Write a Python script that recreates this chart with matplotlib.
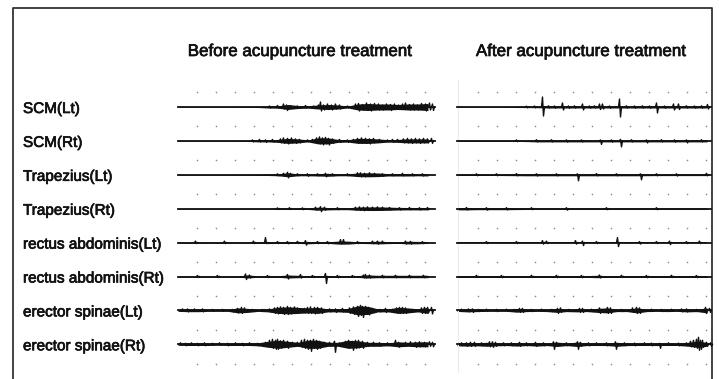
import numpy as np
import matplotlib
matplotlib.use("Agg")
import matplotlib.pyplot as plt
import matplotlib.patheffects as pe

# muscle names, one row per trace
muscles = ["SCM(Lt)", "SCM(Rt)", "Trapezius(Lt)", "Trapezius(Rt)",
           "rectus abdominis(Lt)", "rectus abdominis(Rt)",
           "erector spinae(Lt)", "erector spinae(Rt)"]
titles = ["Before acupuncture treatment", "After acupuncture treatment"]

# envelope (half amplitude, px) every 10 px along each trace
env_before = [
    [0.3, 0.3, 0.3, 0.3, 0.3, 0.3, 0.3, 0.4, 0.5, 1, 1.2, 2.5, 1.5, 1.2, 2, 2.5, 2, 1, 3, 3.5, 3, 3, 2.5, 3, 3, 3.5],
    [0.3, 0.3, 0.3, 0.3, 0.3, 0.3, 0.3, 0.5, 1, 1, 1.5, 2.5, 2, 1, 3, 3, 1.5, 1.2, 2.5, 2.5, 2, 1.2, 1.5, 2, 2, 2],
    [0.3, 0.3, 0.3, 0.3, 0.3, 0.3, 0.3, 0.4, 0.5, 0.7, 1, 2, 1, 1, 1.2, 1.5, 1, 1, 1.8, 2, 1.8, 1.2, 1.2, 1.2, 1, 1.2],
    [0.3, 0.3, 0.3, 0.3, 0.3, 0.3, 0.3, 0.3, 0.3, 0.3, 0.6, 0.7, 0.8, 0.8, 1.5, 1.2, 1, 1, 1.6, 1.8, 1.8, 1.6, 1.3, 1.2, 1.2, 1.2],
    [0.4, 0.5, 0.6, 0.4, 0.5, 0.6, 0.4, 0.5, 0.6, 1, 0.7, 0.8, 0.8, 1.2, 0.8, 0.8, 1.5, 1.5, 0.8, 1, 1.3, 1, 0.8, 1.3, 1.2, 0.8],
    [0.5, 0.5, 0.5, 0.5, 0.5, 0.5, 0.6, 1.5, 0.7, 0.7, 0.8, 1.5, 1.2, 0.8, 0.8, 1, 0.8, 0.8, 1, 1.5, 1.2, 1.2, 1.2, 1.2, 1.2, 1.2],
    [1, 1.3, 1.3, 1, 1, 1, 2.5, 2, 1, 1.5, 3, 3.5, 3, 2.5, 3, 1.5, 1.5, 2, 4.5, 4, 1.5, 1.5, 3, 2.5, 1.5, 3],
    [1, 1.2, 1.2, 1.2, 1, 1.2, 1.2, 1.2, 1.5, 3, 4, 3, 2, 4, 4, 2, 2, 4, 3.5, 2, 2, 1.5, 2.5, 2, 2.5, 2.5],
]
env_after = [
    [0.3, 0.3, 0.3, 0.3, 0.3, 0.3, 0.5, 0.6, 0.7, 1, 1, 1, 1, 1, 1, 1, 1, 1, 1, 1, 1, 1, 1, 1, 1, 1],
    [0.5, 0.5, 0.5, 0.5, 0.5, 0.5, 0.5, 0.7, 1, 1, 1, 1, 1, 1, 1, 1, 1, 1, 1, 1, 1, 1, 1, 1, 1, 1],
    [0.7, 0.7, 0.7, 0.7, 0.7, 0.8, 0.9, 1, 1, 1, 1, 1, 1, 1, 1, 1, 1, 1, 1, 0.9, 0.8, 0.8, 0.8, 0.8, 0.8, 0.8],
    [1.2, 1.2, 1, 1, 1, 1, 0.9, 0.8, 0.7, 0.7, 0.7, 0.7, 0.7, 0.7, 0.7, 0.7, 0.7, 0.7, 0.7, 0.7, 0.7, 0.7, 0.7, 0.7, 0.7, 0.7],
    [0.6, 0.6, 0.6, 0.6, 0.6, 0.6, 0.6, 0.6, 0.6, 0.6, 0.6, 0.6, 0.6, 0.6, 0.6, 0.6, 0.6, 0.6, 0.6, 0.6, 0.6, 0.6, 0.6, 0.6, 0.6, 0.6],
    [0.9, 0.9, 0.9, 0.9, 0.9, 0.9, 0.9, 0.9, 0.9, 0.9, 0.9, 0.9, 0.9, 0.9, 1.2, 0.9, 0.9, 0.9, 0.9, 0.9, 0.9, 0.9, 0.9, 0.9, 0.9, 0.9],
    [1, 1.5, 1.2, 1, 1, 1, 1.8, 1.2, 1, 1.2, 2, 1.2, 1.5, 1.2, 2, 2.5, 1.2, 1.2, 2.5, 1.2, 1, 1.2, 1, 1.5, 1.2, 2.5],
    [1.5, 1.8, 1.5, 2, 1.5, 1.3, 1.8, 1.3, 1.8, 1.3, 2.2, 1.3, 2.2, 1.3, 1.2, 1.3, 2, 1.3, 1.2, 1.2, 1.3, 1.2, 1.2, 1.8, 3, 2],
]

# visible deflections: (position along trace px, height up px, depth down px)
spikes_before = [
    [(92, 1, 1), (100, 1.5, 1), (106, 3, 2), (109, 2, 3.5), (113, 1.5, 1), (120, 1, 1.5), (128, 1.5, 1),
     (136, 1, 1), (141, 2, 1), (143, 5, 4), (146, 2, 3), (150, 3, 2.5), (154, 2, 3), (158, 3, 2),
     (162, 2, 2), (170, 1, 1), (178, 3, 2), (181, 3.5, 4), (185, 2.5, 3), (189, 4, 3), (193, 3, 4),
     (197, 3.5, 2.5), (201, 3, 3), (205, 2, 3), (209, 3, 2), (213, 2.5, 3.5), (217, 3, 2), (221, 2, 2.5),
     (225, 3, 2), (228, 4, 2), (232, 2.5, 3), (236, 3, 3), (240, 2, 3), (244, 3.5, 2.5), (248, 3, 4),
     (252, 4, 3), (255, 3, 3.5)],
    [(75, 1, 1), (82, 1.5, 1), (88, 1, 1.5), (95, 1.5, 1), (103, 2, 2), (106, 3, 2.5), (110, 2.5, 3),
     (114, 3, 2), (118, 2, 2.5), (122, 1.5, 2), (130, 1, 1), (135, 1.5, 1), (139, 3, 2.5), (142, 4, 3),
     (145, 3, 4), (148, 3.5, 3), (151, 2.5, 4), (155, 2, 2.5), (162, 1.5, 1.5), (170, 1, 1.5),
     (176, 1.5, 1), (180, 2.5, 2), (184, 3, 2), (188, 2.5, 2.5), (192, 2, 3), (196, 2.5, 2),
     (202, 1.5, 1.5), (210, 1, 1), (215, 1.5, 1.5), (220, 1.5, 1), (226, 2, 2), (230, 2.5, 2),
     (234, 2, 2.5), (238, 2.5, 2), (242, 2, 2.5), (246, 2.5, 2), (250, 2, 2), (254, 2.5, 2.5)],
    [(100, 1, 1), (106, 1.5, 1), (110, 2.5, 3), (113, 1.5, 1.5), (120, 1, 1), (130, 1, 1.5), (140, 1, 1),
     (148, 1.5, 2), (155, 1, 1), (170, 1, 1), (180, 2, 1.5), (183, 2, 2), (187, 1.5, 2), (192, 2, 1.5),
     (197, 1.5, 1.5), (205, 1, 1.5), (215, 1, 1), (225, 1.5, 1), (235, 1, 1), (245, 1, 1.2)],
    [(100, 0.8, 0.8), (112, 1, 0.8), (125, 0.8, 1), (138, 1.5, 1.5), (143, 2, 3), (147, 1.5, 1.5),
     (160, 1, 1), (178, 1.5, 1.5), (182, 1.8, 1.5), (186, 1.5, 2), (190, 1.8, 1.5), (195, 1.5, 1.8),
     (200, 1.8, 1.5), (205, 1.5, 1.5), (212, 1.2, 1.2), (222, 1, 1.2), (232, 1.2, 1), (242, 1, 1.2),
     (250, 1.2, 1)],
    [(18, 1.5, 1), (47, 1.5, 1), (76, 1.5, 1), (88, 5, 1), (100, 1, 1), (110, 1, 1.2), (120, 1.2, 1),
     (128, 2, 2.5), (140, 1, 1), (150, 1, 1.2), (163, 3, 1.5), (166, 3, 1), (180, 1, 1), (195, 1.5, 1),
     (200, 1.5, 1.5), (205, 1.5, 1), (228, 1.5, 1.5), (233, 1.2, 1.5), (245, 1, 1)],
    [(20, 1, 1), (40, 1, 1), (68, 2.5, 3), (72, 1.5, 1.5), (90, 1, 1), (110, 2, 2.5), (123, 2, 1.5),
     (135, 1, 1), (148, 3, 7), (160, 1, 1.2), (175, 1, 1), (186, 1.5, 1.5), (188, 2, 1.5), (192, 1.5, 1.5),
     (205, 1.2, 1.2), (218, 1.2, 1.2), (232, 1.2, 1.2), (246, 1.2, 1.2)],
    [(5, 1.5, 1), (10, 1.5, 1.5), (17, 1.5, 1), (25, 1.5, 1.5), (35, 1, 1), (45, 1, 1), (55, 1, 1.5),
     (60, 2, 2.5), (64, 3, 3), (67, 2.5, 2), (75, 1, 1), (85, 1, 1), (92, 1.5, 1.5), (97, 2.5, 3),
     (100, 3, 3.5), (103, 3.5, 3), (106, 3, 4), (110, 4, 4), (113, 3, 3.5), (117, 3.5, 3), (120, 2.5, 3),
     (127, 2, 2.5), (130, 3, 3), (133, 3.5, 3), (137, 3, 3.5), (140, 3, 2.5), (144, 2.5, 3),
     (152, 1.5, 1.5), (158, 1.5, 2), (165, 2, 1.5), (172, 2.5, 3), (176, 3.5, 4), (180, 4, 6),
     (183, 5, 5), (185, 4, 7), (188, 4, 4), (191, 3, 4.5), (195, 2, 2), (202, 1, 1.5), (208, 2, 2),
     (215, 1, 1), (219, 2.5, 2.5), (222, 3, 3), (225, 3, 3), (228, 2.5, 3), (235, 1, 1), (244, 2.5, 3),
     (247, 3, 3), (250, 3, 2.5), (254, 3, 3.5)],
    [(3, 1.5, 1), (8, 1, 1.5), (14, 1.5, 1), (20, 1, 1.5), (27, 1.5, 1.5), (35, 1, 1), (42, 1.5, 1),
     (50, 1, 1.5), (58, 1.5, 1), (65, 1, 1.5), (72, 1.5, 1), (80, 1, 1.5), (88, 2, 2), (92, 4, 3),
     (95, 5, 4), (98, 4, 5), (100, 5, 5), (103, 3.5, 4), (106, 4, 3), (110, 3, 4), (115, 2, 2),
     (120, 2, 2), (124, 4, 3), (127, 5, 4), (130, 4, 5), (133, 4, 7), (136, 5, 4), (139, 4, 5),
     (142, 3, 4), (147, 2, 2), (152, 2, 2), (157, 3, 8), (162, 1.5, 1.5), (168, 3, 3), (171, 4, 4),
     (175, 3, 6), (178, 4, 4), (181, 4, 3.5), (185, 3, 4), (190, 2, 2), (196, 2, 1.5), (202, 1.5, 2),
     (210, 1.5, 1.5), (218, 4, 2), (221, 2, 3), (228, 2, 2), (233, 2.5, 2), (238, 2, 3), (242, 2.5, 2.5),
     (247, 2, 2.5), (252, 2.5, 2), (255, 2, 2.5)],
]
spikes_after = [
    [(70, 0.8, 0.8), (78, 1, 0.8), (86, 10, 9), (92, 1.2, 1), (98, 1, 1.2), (106, 4, 3), (112, 1, 1.2),
     (118, 1.2, 1), (126, 3, 3), (133, 1, 1.2), (138, 1.2, 1), (143, 3, 2.5), (146, 3, 2), (153, 1, 1.2),
     (163, 8, 10), (170, 1.2, 1), (178, 1, 1.2), (186, 1.2, 1), (193, 1, 1.2), (200, 4, 6), (208, 1, 1.2),
     (217, 3, 3), (222, 3, 2.5), (230, 1.2, 1), (238, 1, 1.2), (245, 1.2, 1), (251, 2.5, 2)],
    [(60, 1, 0.8), (80, 1.2, 1), (95, 1.2, 1), (110, 1, 1.2), (125, 1, 1), (144, 1, 3.5), (155, 1, 1.2),
     (164, 1.5, 6), (175, 1.2, 1), (190, 1, 2), (205, 1.2, 1), (218, 1, 1.2), (230, 1, 2), (245, 1.2, 1)],
    [(20, 1, 1), (40, 1, 1), (60, 1.2, 1), (80, 1, 1.2), (100, 1, 1), (121, 1, 6), (140, 1.2, 1),
     (160, 1, 1), (184, 1, 5), (200, 1, 1), (220, 1, 1.2), (250, 1.5, 1)],
    [(10, 1.2, 1.2), (30, 1, 1.5), (50, 1, 1.2), (75, 1, 1), (110, 1, 1.5), (150, 1, 1), (200, 1, 1)],
    [(30, 1, 1), (60, 1, 1), (86, 2, 1.5), (90, 1.5, 1), (119, 2, 1.5), (126, 1.5, 3), (140, 1, 1),
     (161, 5, 4), (183, 1, 1.5), (200, 1, 1), (213, 1.5, 2), (230, 1, 1), (243, 1.5, 1)],
    [(20, 1.2, 1), (45, 1, 1.2), (75, 1.2, 1), (100, 1.2, 1.2), (125, 1, 1.2), (143, 1.5, 1.5),
     (165, 1.2, 1), (190, 1, 1.2), (215, 1.2, 1), (240, 1, 1.2)],
    [(5, 1.2, 1), (12, 1.5, 1.5), (16, 1.5, 2), (22, 1, 1.2), (30, 1.2, 1), (40, 1, 1.2), (50, 1.2, 1),
     (58, 1, 1.2), (63, 2, 2), (66, 2, 2), (75, 1, 1.2), (85, 1.2, 1), (95, 1, 1.2), (101, 2, 3),
     (104, 2.5, 2), (112, 1, 1.2), (123, 2, 2), (126, 2, 2), (135, 1.2, 1), (143, 2.5, 3), (151, 3, 3),
     (154, 2.5, 3), (165, 1, 1.2), (176, 2.5, 2), (180, 3, 3), (183, 2.5, 3), (195, 1.2, 1), (205, 1, 1.2),
     (215, 1.2, 1), (225, 1.5, 1.5), (230, 1.5, 1.5), (240, 1, 1.2), (249, 3, 3), (253, 2, 2)],
    [(5, 1.5, 1.5), (10, 1.5, 2), (14, 2, 2), (18, 2, 2), (25, 1.5, 1.5), (33, 2.5, 2.5), (36, 2.5, 3),
     (39, 2, 2), (47, 1.5, 1.5), (55, 1.5, 1.5), (63, 2, 2), (70, 1.5, 1.5), (79, 2, 2), (87, 1.5, 1.5),
     (97, 2.5, 5), (100, 2, 2), (110, 1.5, 1.5), (121, 2.5, 5), (124, 2, 2), (132, 1.5, 1.5),
     (140, 1.5, 1.2), (150, 1.5, 1.5), (159, 2.5, 5), (168, 1.5, 1.5), (178, 1.2, 1.5), (188, 1.5, 1.2),
     (195, 1.2, 1.5), (203, 1, 4), (212, 1.5, 1.2), (222, 1.2, 1.5), (230, 1.5, 1.5), (234, 3, 2.5),
     (237, 4, 3), (240, 5, 4), (242, 7, 6), (244, 4, 5), (246, 4, 3), (250, 2, 2), (254, 1.5, 2)],
]

W, H = 719, 379
fig = plt.figure(figsize=(W / 100, H / 100), dpi=100)
ax = fig.add_axes([0, 0, 1, 1])
ax.set_xlim(0, W)
ax.set_ylim(H, 0)
ax.axis("off")

sans = ["Liberation Sans", "DejaVu Sans"]
ink = "#111111"
heavy = [pe.withStroke(linewidth=0.5, foreground=ink)]

# frame (bottom runs off the picture)
ax.plot([13, 13, 712, 712], [H + 5, 8, 8, H + 5], color="#333333", lw=1.3, clip_on=False)
# faint divider of the right panel
ax.plot([458, 458], [80, 372], color="#ececec", lw=0.8)

x_start = [178, 457]
x_len = [257, 254]
title_x = [300, 581]
for p, t in enumerate(titles):
    ax.text(title_x[p], 56, t, ha="center", va="baseline", fontsize=12.2,
            family=sans, color=ink, path_effects=heavy)

# grid of dots
dot_x0 = [197, 478]
for p in range(2):
    gx = dot_x0[p] + 19 * np.arange(13)
    for j in range(9):
        ax.scatter(gx, np.full(13, 92 + 34 * j), s=1.4, color="#8c8c8c", lw=0)

offs = np.arange(26) * 10.0
for i, name in enumerate(muscles):
    base = 107 + 33.9 * i
    ax.text(23, base + 2, name, ha="left", va="center", fontsize=11,
            family=sans, color=ink, path_effects=heavy)
    for p, (envs, spk) in enumerate([(env_before, spikes_before), (env_after, spikes_after)]):
        x = x_start[p] + np.minimum(offs, x_len[p])
        e = np.array(envs[i])
        ax.fill_between(x, base - e, base + e, color=ink, lw=0)
        ax.plot([x_start[p], x_start[p] + x_len[p]], [base, base], color=ink, lw=1.3)
        for pos, up, dn in spk[i]:
            xs = x_start[p] + pos
            ax.plot([xs - 1.5, xs - 0.5, xs + 0.5, xs + 1.5],
                    [base, base - up, base + dn, base], color=ink, lw=1.0)

fig.savefig("out.png", dpi=100)
